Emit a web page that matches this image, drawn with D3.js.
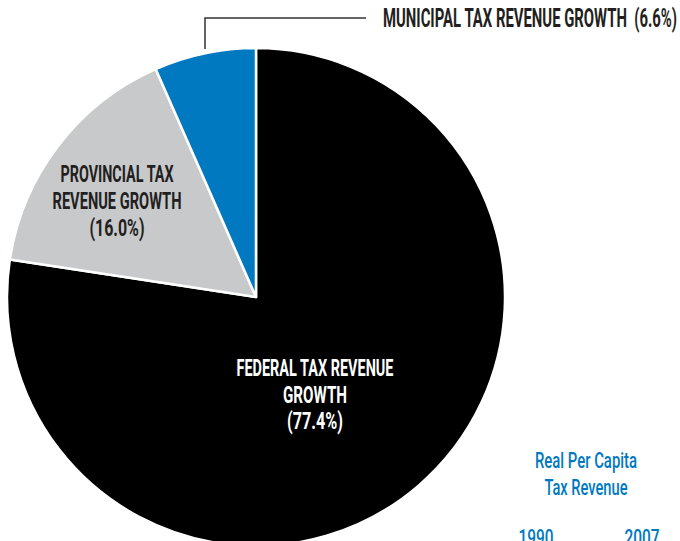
<!DOCTYPE html>
<html>
<head>
<meta charset="utf-8">
<script src="https://cdn.jsdelivr.net/npm/d3@7"></script>
<style>
  html, body { margin: 0; padding: 0; background: #fff; }
  svg { display: block; }
  text { font-family: Roboto, "DejaVu Sans Condensed", "Liberation Sans", sans-serif; font-weight: 700; }
</style>
</head>
<body>
<svg id="chart" width="680" height="541"></svg>
<script>
// Share of tax revenue growth by level of government (%)
const levels = ["Federal", "Provincial", "Municipal"];
const shares = [77.4, 16.0, 6.6];
const sliceColors = ["#000000", "#c8c9cb", "#0079c1"];

const sideTitle = ["Real Per Capita", "Tax Revenue"];
const sideYears = ["1990", "2007"];

const width = 680, height = 541;
const cx = 256, cy = 297, radius = 249;

const svg = d3.select("#chart");

const color = d3.scaleOrdinal().domain(levels).range(sliceColors);

const pie = d3.pie().sort(null).value(d => d.value);
const arcs = pie(levels.map((name, i) => ({ name, value: shares[i] })));
const arc = d3.arc().innerRadius(0).outerRadius(radius);

const g = svg.append("g").attr("transform", `translate(${cx},${cy})`);

g.selectAll("path")
  .data(arcs)
  .join("path")
  .attr("d", arc)
  .attr("fill", d => color(d.data.name))
  .attr("stroke", "#fff")
  .attr("stroke-width", 2.5)
  .attr("stroke-linejoin", "round");

// Helper for condensed multi-line labels
function label(x, y, lines, opts) {
  const t = svg.append("text")
    .attr("text-anchor", "middle")
    .attr("fill", opts.fill)
    .style("font-size", opts.size + "px")
    .style("font-weight", opts.weight || 700);
  lines.forEach((ln, i) => {
    t.append("tspan")
      .attr("x", x)
      .attr("y", y + i * opts.lh)
      .attr("textLength", ln.w)
      .attr("lengthAdjust", "spacingAndGlyphs")
      .text(ln.s);
  });
  return t;
}

const pct = v => `(${d3.format(".1f")(v)}%)`;

// Federal label
label(315, 376, [
  { s: "FEDERAL TAX REVENUE", w: 157 },
  { s: "GROWTH", w: 64 },
  { s: pct(shares[0]), w: 56 }
], { fill: "#ffffff", size: 23.5, lh: 26.5 });

// Provincial label
label(117, 182, [
  { s: "PROVINCIAL TAX", w: 113 },
  { s: "REVENUE GROWTH", w: 129 },
  { s: pct(shares[1]), w: 55 }
], { fill: "#231f20", size: 24, lh: 27 });

// Municipal label with leader line
svg.append("path")
  .attr("d", d3.line()([[205, 49], [205, 18], [366, 18]]))
  .attr("fill", "none")
  .attr("stroke", "#333")
  .attr("stroke-width", 1.5);

svg.append("text")
  .attr("x", 383)
  .attr("y", 27)
  .attr("fill", "#231f20")
  .style("font-size", "25px")
  .attr("textLength", 294)
  .attr("lengthAdjust", "spacingAndGlyphs")
  .attr("xml:space", "preserve")
  .text(`MUNICIPAL TAX REVENUE GROWTH  ${pct(shares[2])}`);

// Side panel heading
label(586, 468, [
  { s: sideTitle[0], w: 102 },
  { s: sideTitle[1], w: 83 }
], { fill: "#0079c1", size: 22, lh: 27, weight: 500 });

// Year labels
const yearX = d3.scalePoint().domain(sideYears).range([536, 642]);
svg.selectAll("text.year")
  .data(sideYears)
  .join("text")
  .attr("class", "year")
  .attr("x", d => yearX(d))
  .attr("y", 545)
  .attr("text-anchor", "middle")
  .attr("fill", "#0079c1")
  .style("font-size", "22px")
  .style("font-weight", 500)
  .attr("textLength", 35)
  .attr("lengthAdjust", "spacingAndGlyphs")
  .text(d => d);
</script>
</body>
</html>
